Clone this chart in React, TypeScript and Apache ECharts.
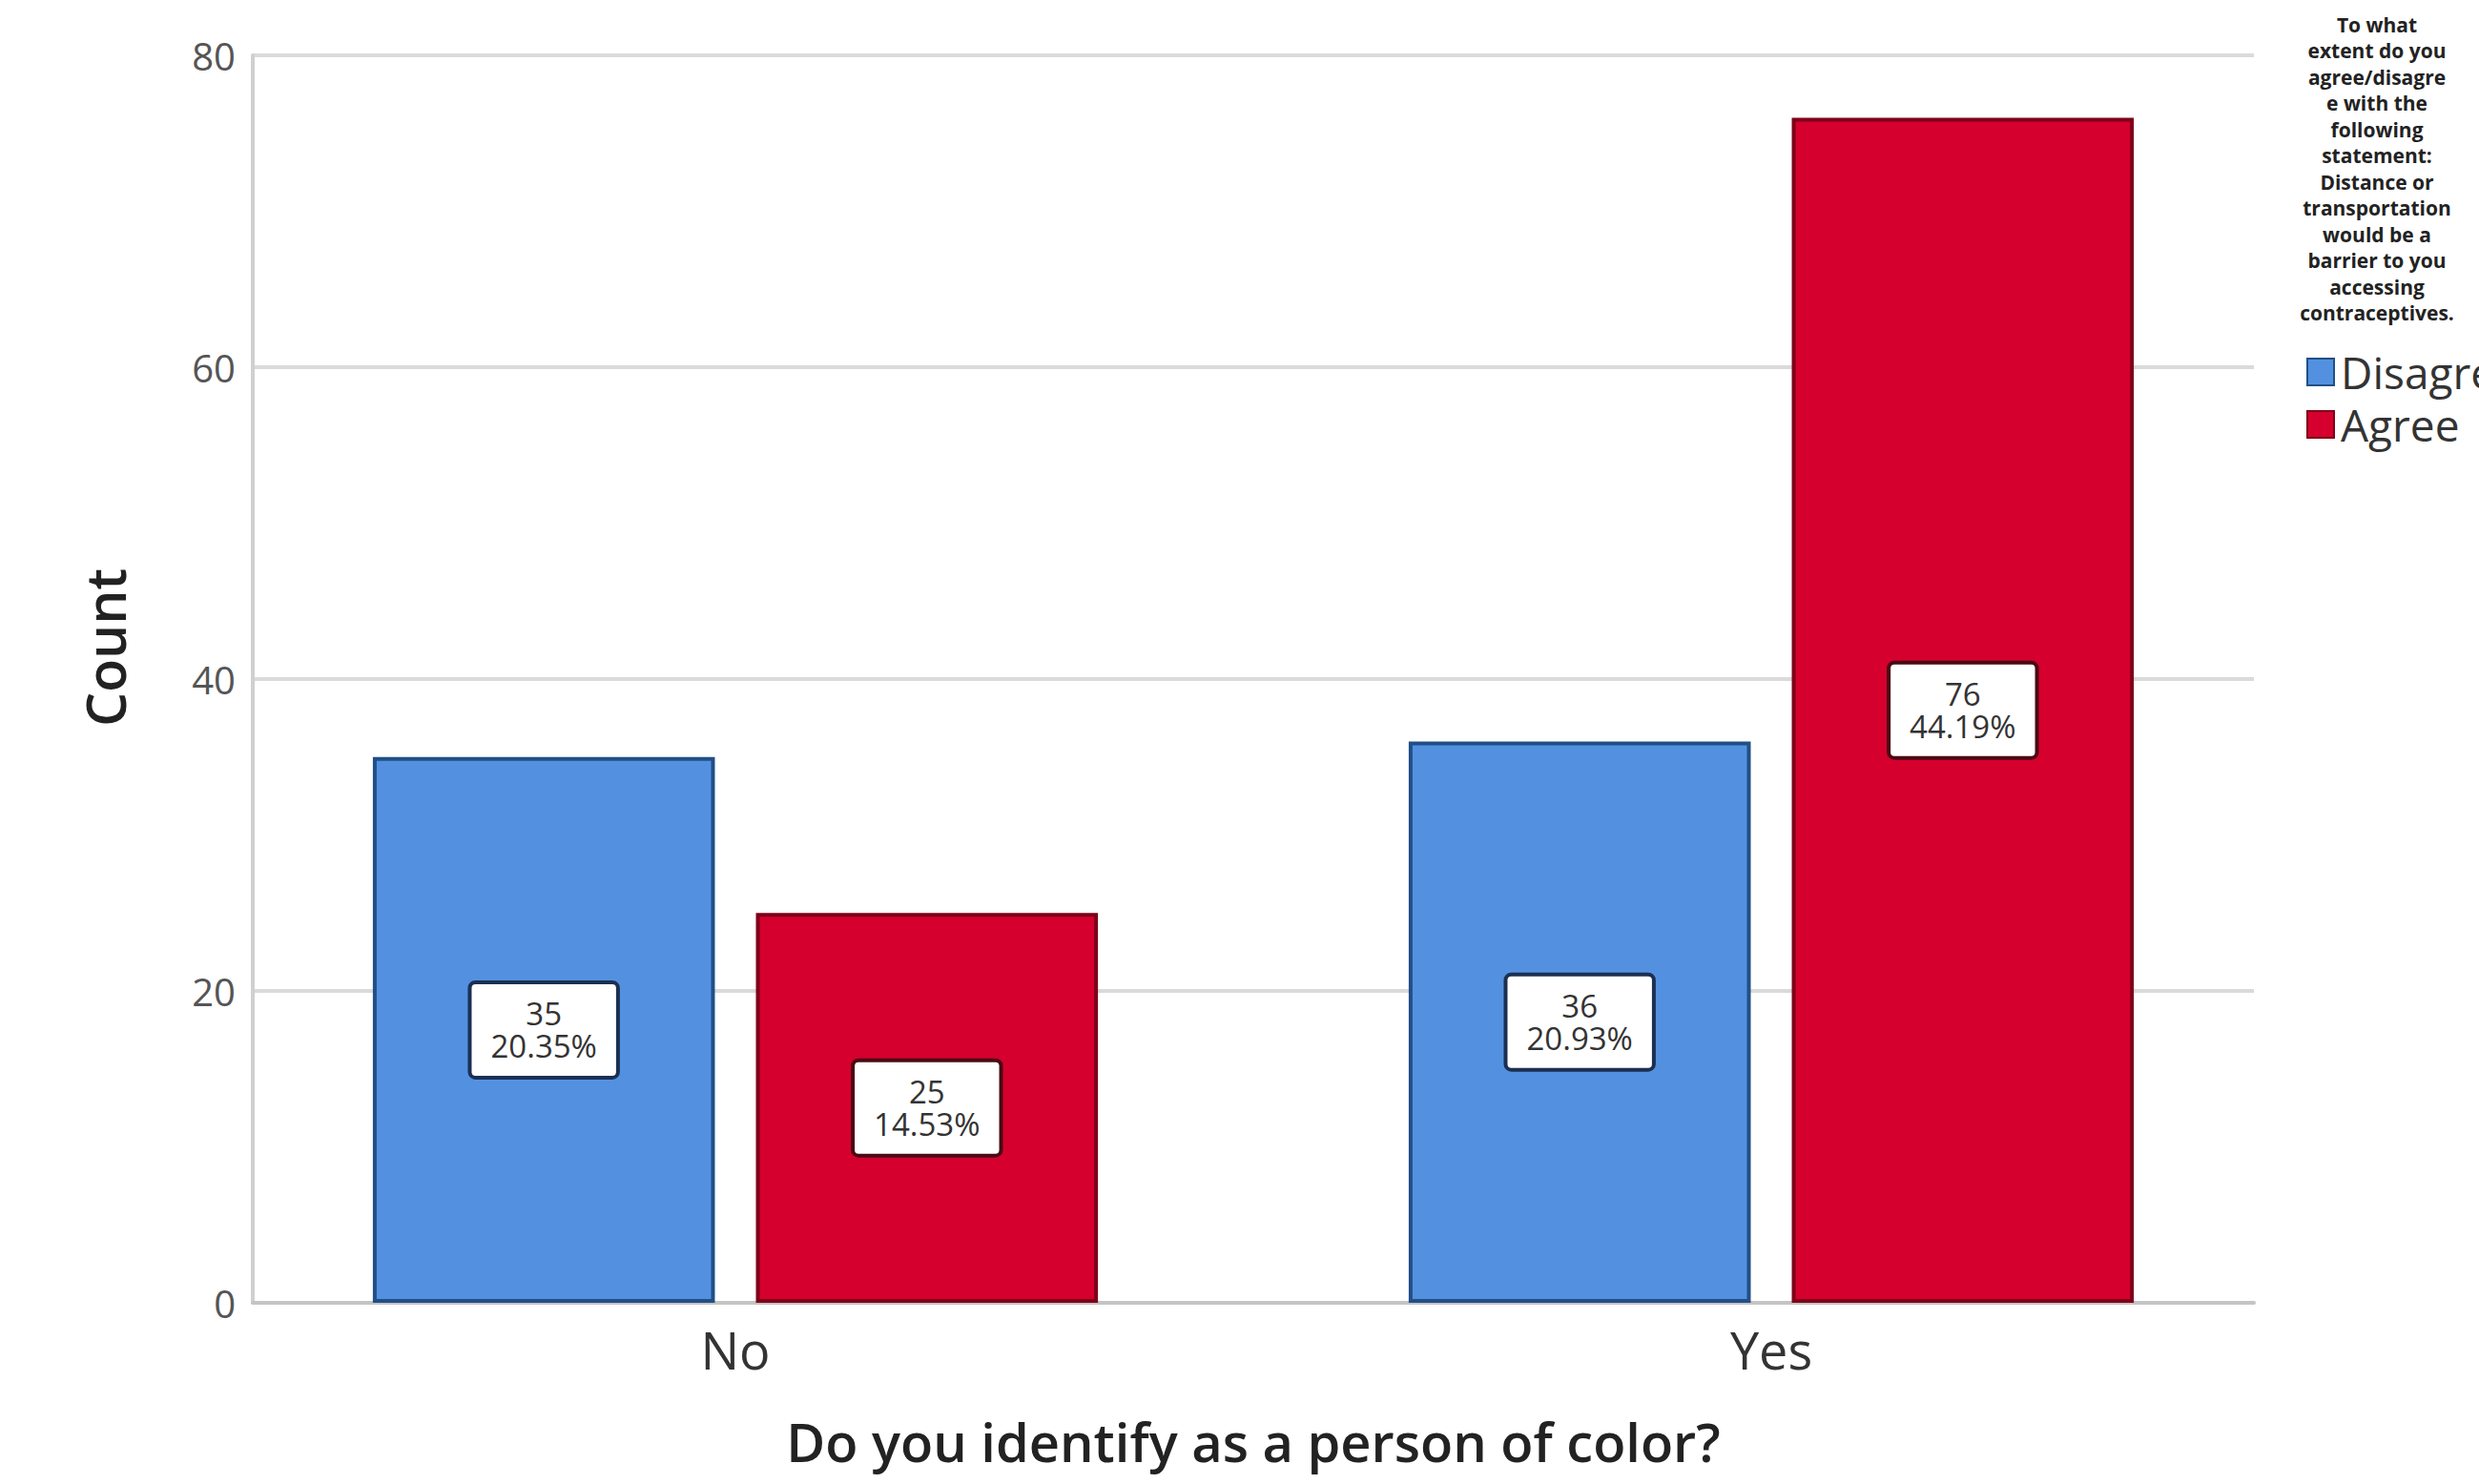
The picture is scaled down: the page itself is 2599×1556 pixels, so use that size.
import React, { useEffect, useRef } from "react";
import * as echarts from "echarts";

// Survey cross-tab: person of color vs. distance/transport as a barrier
const categories = ["No", "Yes"];
const disagreeCounts = [35, 36];
const agreeCounts = [25, 76];
const seriesNames = ["Disagree", "Agree"];
const yTicks = { min: 0, max: 80, interval: 20 };
const legendTitleLines = [
  "To what",
  "extent do you",
  "agree/disagre",
  "e with the",
  "following",
  "statement:",
  "Distance or",
  "transportation",
  "would be a",
  "barrier to you",
  "accessing",
  "contraceptives.",
];

const FONT = "'Open Sans', 'Noto Sans', sans-serif";

export default function App() {
  const ref = useRef<HTMLDivElement>(null);

  useEffect(() => {
    document.body.style.margin = "0";
    if (!ref.current) return;
    const chart = echarts.init(ref.current, undefined, { renderer: "svg" });

    const total =
      disagreeCounts.reduce((a, b) => a + b, 0) +
      agreeCounts.reduce((a, b) => a + b, 0);

    const makeLabel = (borderColor: string) => ({
      show: true,
      position: "inside",
      formatter: (p: any) =>
        `${p.value}\n${((p.value / total) * 100).toFixed(2)}%`,
      fontFamily: FONT,
      fontSize: 33,
      lineHeight: 34,
      color: "#333",
      backgroundColor: "#ffffff",
      borderColor,
      borderWidth: 4,
      borderRadius: 4,
      padding: [15, 20, 13, 20],
      align: "center",
    });

    chart.setOption({
      animation: false,
      backgroundColor: "#ffffff",
      grid: [
        // frame: axis line, gridlines, tick labels
        { left: 265, right: 236, top: 58, bottom: 190, containLabel: false },
        // bars
        { left: 228, right: 199, top: 58, bottom: 190, containLabel: false },
      ],
      xAxis: [
        {
          gridIndex: 0,
          type: "category",
          data: categories,
          axisLine: { show: true, lineStyle: { color: "#c4c4c4", width: 4 } },
          axisTick: { show: false },
          axisLabel: { show: false },
          name: "Do you identify as a person of color?",
          nameLocation: "middle",
          nameGap: 116,
          nameTextStyle: {
            fontFamily: FONT,
            fontSize: 56,
            lineHeight: 58,
            fontWeight: 600,
            color: "#222",
          },
        },
        {
          gridIndex: 1,
          type: "category",
          data: categories,
          axisLine: { show: false },
          axisTick: { show: false },
          axisLabel: {
            fontFamily: FONT,
            fontSize: 54,
            color: "#333",
            margin: 22,
          },
        },
      ],
      yAxis: [
        {
          gridIndex: 0,
          type: "value",
          min: yTicks.min,
          max: yTicks.max,
          interval: yTicks.interval,
          axisLine: { show: true, lineStyle: { color: "#d0d0d0", width: 4 } },
          axisTick: { show: false },
          splitLine: { show: true, lineStyle: { color: "#dadada", width: 4 } },
          axisLabel: {
            fontFamily: FONT,
            fontSize: 40,
            color: "#555",
            margin: 18,
          },
          name: "Count",
          nameLocation: "middle",
          nameRotate: 90,
          nameGap: 127,
          nameTextStyle: {
            fontFamily: FONT,
            fontSize: 57,
            fontWeight: 600,
            color: "#222",
            padding: [0, 0, 0, 66],
          },
        },
        {
          gridIndex: 1,
          type: "value",
          min: yTicks.min,
          max: yTicks.max,
          interval: yTicks.interval,
          show: false,
        },
      ],
      legend: {
        orient: "vertical",
        left: 2413,
        top: 362,
        icon: "rect",
        itemWidth: 28,
        itemHeight: 28,
        itemGap: 9,
        data: seriesNames,
        textStyle: {
          fontFamily: FONT,
          fontSize: 46,
          lineHeight: 28,
          color: "#333",
          padding: [0, 0, 0, 2],
        },
      },
      graphic: [
        {
          type: "text",
          x: 2492,
          y: 12,
          style: {
            text: legendTitleLines.join("\n"),
            align: "center",
            verticalAlign: "top",
            fontFamily: FONT,
            fontSize: 21,
            fontWeight: "bold",
            lineHeight: 27.5,
            fill: "#222",
          },
        },
      ],
      series: [
        {
          name: seriesNames[0],
          type: "bar",
          xAxisIndex: 1,
          yAxisIndex: 1,
          data: disagreeCounts,
          barGap: "12%",
          barCategoryGap: "30%",
          itemStyle: { color: "#5391e0", borderColor: "#214f86", borderWidth: 4 },
          label: makeLabel("#1c2f52"),
        },
        {
          name: seriesNames[1],
          type: "bar",
          xAxisIndex: 1,
          yAxisIndex: 1,
          data: agreeCounts,
          barGap: "12%",
          barCategoryGap: "30%",
          itemStyle: { color: "#d5002d", borderColor: "#7e0019", borderWidth: 4 },
          label: makeLabel("#4a0a14"),
        },
      ],
    });

    return () => chart.dispose();
  }, []);

  return <div ref={ref} style={{ width: 2599, height: 1556 }} />;
}
